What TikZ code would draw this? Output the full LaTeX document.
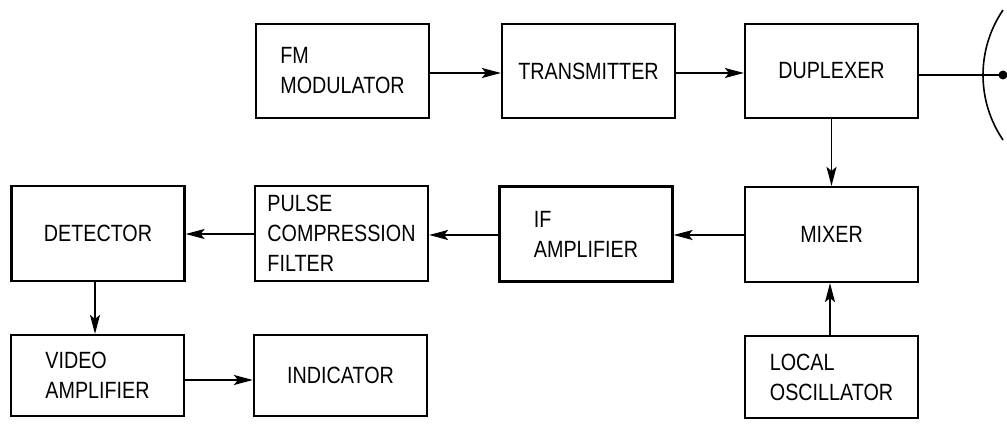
\documentclass[tikz,border=0pt]{standalone}
\usepackage{fontspec}
\setmainfont[FakeStretch=0.84]{Liberation Sans}
\usetikzlibrary{arrows.meta}
\begin{document}
\begin{tikzpicture}[x=1pt,y=-1pt,
  blk/.style={draw, line width=2.2pt, minimum width=173pt, minimum height=94pt, inner sep=0pt, align=left, font=\fontsize{23.5}{30}\selectfont},
  conn/.style={line width=1.6pt, -{Stealth[length=19pt,width=10pt,inset=4pt]}}]
\useasboundingbox (0,0) rectangle (1007,427);
\node[blk] (fm) at (342.5,71) {FM\\MODULATOR};
\node[blk] (tx) at (588.5,71) {TRANSMITTER};
\node[blk] (dup) at (831.5,71) {DUPLEXER};
\node[blk, minimum height=95pt] (det) at (98,233.5) {DETECTOR};
\node[blk, minimum height=95pt] (pcf) at (341.5,233.5) {PULSE\\COMPRESSION\\FILTER};
\node[blk, minimum height=95pt] (ifa) at (586,234) {IF\\AMPLIFIER};
\node[blk, minimum height=95pt] (mix) at (831.5,234.5) {MIXER};
\node[blk, minimum height=81pt] (vid) at (97.5,375.5) {VIDEO\\AMPLIFIER};
\node[blk, minimum height=81pt] (ind) at (340.5,375.5) {INDICATOR};
\node[blk, minimum height=82pt] (lo) at (831.5,377) {LOCAL\\OSCILLATOR};
\coordinate (feed) at (1003,75);
\draw[conn] (fm.east |- 0,73) -- (tx.west |- 0,73);
\draw[conn] (tx.east |- 0,73) -- (dup.west |- 0,73);
\draw[conn] (dup.south) -- (mix.north);
\draw[conn] (mix.west |- 0,235) -- (ifa.east |- 0,235);
\draw[conn] (ifa.west |- 0,235) -- (pcf.east |- 0,235);
\draw[conn] (pcf.west |- 0,234) -- (det.east |- 0,234);
\draw[conn] (det.south -| 95,0) -- (vid.north -| 95,0);
\draw[conn] (vid.east |- 0,380) -- (ind.west |- 0,380);
\draw[conn] (lo.north -| 830,0) -- (mix.south -| 830,0);
\draw[line width=1.6pt] (dup.east |- feed) -- (feed);
\fill (feed) circle (4.5pt);
\draw[line width=1.6pt] (1098.6,75) ++(145.8:115.6) arc[start angle=145.8, end angle=214.2, radius=115.6];
\end{tikzpicture}
\end{document}
